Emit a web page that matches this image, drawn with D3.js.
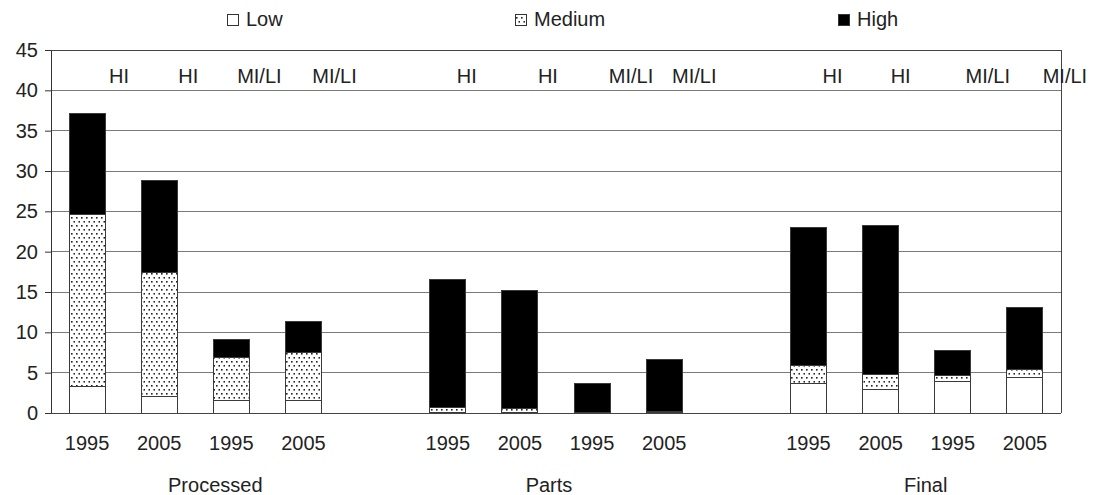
<!DOCTYPE html>
<html><head><meta charset="utf-8">
<script src="https://cdn.jsdelivr.net/npm/d3@7"></script>
<style>body{margin:0;background:#fff}svg{display:block}text{font-family:"Liberation Sans",Arial,sans-serif;fill:#222}</style>
</head><body><svg id="c" width="1095" height="495"></svg>
<script>
const groups = ["Processed", "Parts", "Final"];
const years = ["1995", "2005", "1995", "2005"];
const incomeLabels = ["HI", "HI", "MI/LI", "MI/LI"];
const seriesNames = ["Low", "Medium", "High"];
const lowVals    = [3.3, 2.1, 1.6, 1.5,   0.1, 0.05, 0.0, 0.05,   3.7, 2.9, 3.9, 4.4];
const mediumVals = [21.3, 15.35, 5.25, 6.0,   0.6, 0.5, 0.05, 0.15,   2.2, 1.85, 0.75, 1.05];
const highVals   = [12.5, 11.35, 2.3, 3.9,   15.9, 14.65, 3.55, 6.4,   17.05, 18.45, 3.1, 7.57];
const yTicks = [0, 5, 10, 15, 20, 25, 30, 35, 40, 45];

// layout (not data)
const labelOffsets = [32, 29, 28, 31, 19, 28, 39, 30, 24, 20, 35, 40];
const groupLabelOffsets = [20, -7, 9];

const svg = d3.select("#c");
const m = {l: 51, r: 1061, t: 50, b: 413};
const FS = 20;

const slots = [];
groups.forEach((g, gi) => {
  years.forEach((y, yi) => slots.push(g + "|" + yi));
  if (gi < groups.length - 1) slots.push("gap" + gi);
});
const x = d3.scaleBand().domain(slots).range([m.l, m.r]).paddingInner(0.5).paddingOuter(0.25);
const y = d3.scaleLinear().domain([0, 45]).range([m.b, m.t]);

const rows = [];
groups.forEach((g, gi) => years.forEach((yr, yi) => {
  const i = gi * 4 + yi;
  rows.push({key: g + "|" + yi, group: g, year: yr, label: incomeLabels[yi], i,
    Low: lowVals[i], Medium: mediumVals[i], High: highVals[i]});
}));

// pattern
const defs = svg.append("defs");
const pat = defs.append("pattern").attr("id", "dots").attr("patternUnits", "userSpaceOnUse")
  .attr("width", 5).attr("height", 8);
pat.append("rect").attr("width", 5).attr("height", 8).attr("fill", "#fff");
pat.append("rect").attr("x", 1).attr("y", 1).attr("width", 1.6).attr("height", 1.6).attr("fill", "#222");
pat.append("rect").attr("x", 3.5).attr("y", 5).attr("width", 1.6).attr("height", 1.6).attr("fill", "#222");

const fills = {Low: "#fff", Medium: "url(#dots)", High: "#000"};

// gridlines
svg.append("g").selectAll("line").data(yTicks.filter(d => d > 0 && d < 45)).join("line")
  .attr("x1", m.l).attr("x2", m.r).attr("y1", d => y(d)).attr("y2", d => y(d))
  .attr("stroke", "#7a7a7a").attr("stroke-width", 1).attr("shape-rendering", "crispEdges");

// frame top and right
svg.append("line").attr("x1", m.l).attr("x2", m.r).attr("y1", y(45)).attr("y2", y(45))
  .attr("stroke", "#444").attr("shape-rendering", "crispEdges");
svg.append("line").attr("x1", m.r).attr("x2", m.r).attr("y1", y(45)).attr("y2", y(0))
  .attr("stroke", "#444").attr("shape-rendering", "crispEdges");

// stacked bars
const stack = d3.stack().keys(seriesNames)(rows);
svg.append("g").selectAll("g").data(stack).join("g")
  .attr("fill", d => fills[d.key])
  .selectAll("rect").data(d => d).join("rect")
  .attr("x", d => x(d.data.key)).attr("width", x.bandwidth())
  .attr("y", d => y(d[1])).attr("height", d => Math.max(0, y(d[0]) - y(d[1])))
  .attr("stroke", "#3a3a3a").attr("stroke-width", 1).attr("shape-rendering", "crispEdges");

// y axis
const yAxis = d3.axisLeft(y).tickValues(yTicks).tickSize(6).tickSizeOuter(0);
const ga = svg.append("g").attr("transform", `translate(${m.l},0)`).call(yAxis);
ga.select(".domain").attr("stroke", "#333");
ga.selectAll(".tick line").attr("stroke", "#333");
ga.selectAll(".tick text").attr("font-size", FS).attr("fill", "#222").attr("x", -13)
  .style("font-family", "'Liberation Sans', Arial, sans-serif");

// zero line
svg.append("line").attr("x1", m.l).attr("x2", m.r).attr("y1", y(0)).attr("y2", y(0))
  .attr("stroke", "#444").attr("shape-rendering", "crispEdges");

// x labels (years)
svg.append("g").selectAll("text").data(rows).join("text")
  .attr("x", d => x(d.key) + x.bandwidth() / 2).attr("y", 450)
  .attr("text-anchor", "middle").attr("font-size", FS).text(d => d.year);

// group labels
svg.append("g").selectAll("text").data(groups).join("text")
  .attr("x", (g, gi) => {
    const a = x(g + "|0") + x.bandwidth() / 2, b = x(g + "|3") + x.bandwidth() / 2;
    return (a + b) / 2 + groupLabelOffsets[gi];
  })
  .attr("y", 492).attr("text-anchor", "middle").attr("font-size", FS).text(d => d);

// income labels at top
svg.append("g").selectAll("text").data(rows).join("text")
  .attr("x", d => x(d.key) + x.bandwidth() / 2 + labelOffsets[d.i]).attr("y", 83)
  .attr("text-anchor", "middle").attr("font-size", FS).attr("fill", "#111").text(d => d.label);

// legend
const legX = [227, 515, 838];
const leg = svg.append("g").selectAll("g").data(seriesNames).join("g")
  .attr("transform", (d, i) => `translate(${legX[i]},0)`);
leg.append("rect").attr("x", 0.5).attr("y", 14.5).attr("width", 11).attr("height", 11)
  .attr("fill", d => fills[d]).attr("stroke", "#333").attr("stroke-width", 1);
leg.append("text").attr("x", 19).attr("y", 26).attr("font-size", FS).text(d => d);
</script></body></html>
